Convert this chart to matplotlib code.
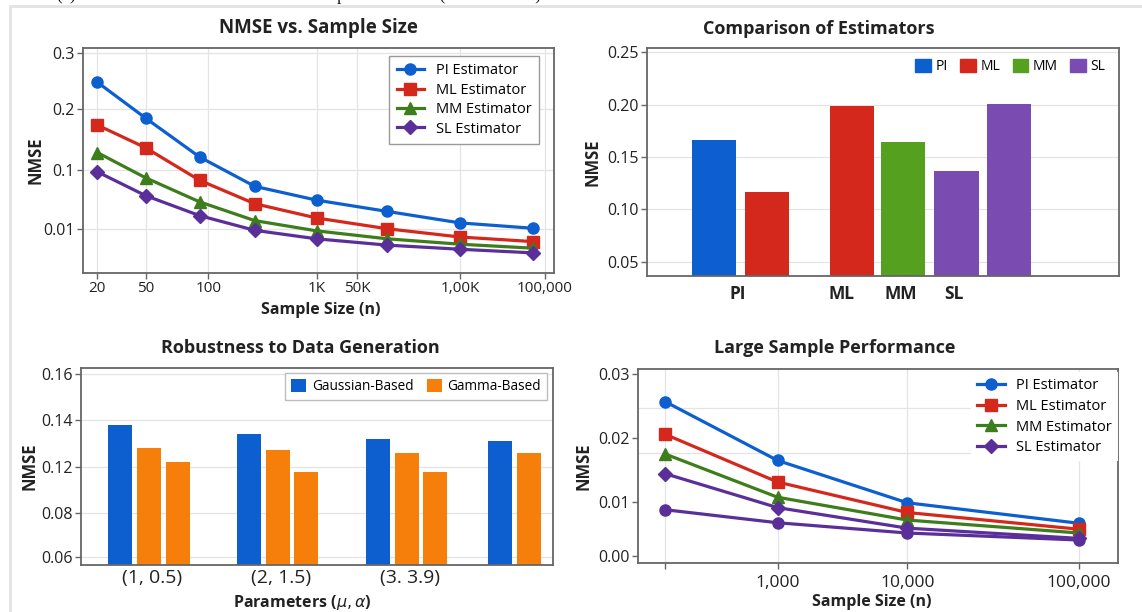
import numpy as np
import matplotlib
matplotlib.use('Agg')
import matplotlib.pyplot as plt
from matplotlib.patches import Patch, Rectangle
from matplotlib.ticker import FixedLocator, FixedFormatter, NullLocator

plt.rcParams['font.family'] = ['Open Sans', 'DejaVu Sans']

# ---------------- data ----------------
# Panel 1: NMSE vs. sample size
sample_sizes = [20, 50, 140, 400, 1300, 5000, 20000, 80000]
nmse_pi = [0.243, 0.181, 0.116, 0.053, 0.031, 0.020, 0.0128, 0.0104]
nmse_ml = [0.167, 0.129, 0.067, 0.027, 0.0155, 0.0102, 0.0074, 0.0062]
nmse_mm = [0.122, 0.074, 0.029, 0.014, 0.0094, 0.0069, 0.0056, 0.0048]
nmse_sl = [0.093, 0.037, 0.017, 0.0096, 0.0069, 0.0054, 0.0046, 0.0040]
p1_xtick_values = [20, 50, 165, 1300, 2800, 20000, 100000]
p1_xtick_labels = ['20', '50', '100', '1K', '50K', '1,00K', '100,000']
p1_ytick_values = [0.01, 0.1, 0.2, 0.3]
p1_ytick_labels = ['0.01', '0.1', '0.2', '0.3']

# Panel 2: comparison of estimators
bar_estimators = ['PI', 'ML', 'ML', 'MM', 'SL', 'SL']
bar_nmse = [0.166, 0.117, 0.199, 0.164, 0.137, 0.201]
p2_xtick_labels = ['PI', 'ML', 'MM', 'SL']
legend_estimators = ['PI', 'ML', 'MM', 'SL']
p2_ytick_values = [0.05, 0.10, 0.15, 0.20, 0.25]

# Panel 3: robustness to data generation
param_labels = ['(1, 0.5)', '(2, 1.5)', '(3. 3.9)', '']
gaussian_nmse = [0.138, 0.134, 0.132, 0.131]
gamma_nmse = [0.128, 0.127, 0.126, 0.126]
gamma_nmse_2 = [0.122, 0.115, 0.115]
p3_ytick_values = [0.06, 0.08, 0.12, 0.14, 0.16]

# Panel 4: large sample performance
large_sizes = [100, 1000, 10000, 100000]
large_pi = [0.0257, 0.0165, 0.0098, 0.0060]
large_ml = [0.0206, 0.0131, 0.0080, 0.0049]
large_mm = [0.0175, 0.0107, 0.0066, 0.0042]
large_sl = [0.0144, 0.0089, 0.0051, 0.0032]
large_extra = [0.0085, 0.0061, 0.0042, 0.0029]
p4_xtick_labels = ['', '1,000', '10,000', '100,000']
p4_ytick_values = [0.00, 0.01, 0.02, 0.03]
p4_grid_levels = [0.00, 0.01, 0.0177, 0.0248]

caption_text = '(a) NMSE Results of Estimators and Comparison Matrix (All Scenarios)'

# ---------------- style ----------------
C_BLUE = '#0d5fcf'
C_RED = '#d4281c'
C_GREEN = '#3d7d1c'
C_PURPLE = '#5a2f9a'
C_GREEN_BAR = '#55a01e'
C_PURPLE_BAR = '#7a4cb2'
C_ORANGE = '#f57f0a'
SPINE = '#666666'
GRID = '#e4e4e4'
TXT = '#222222'
est_colors = {'PI': C_BLUE, 'ML': C_RED, 'MM': C_GREEN_BAR, 'SL': C_PURPLE_BAR}

W, H = 1142, 612
fig = plt.figure(figsize=(W / 100, H / 100), dpi=100)


def add_axes_px(left, top, right, bottom):
    return fig.add_axes([left / W, 1 - bottom / H, (right - left) / W, (bottom - top) / H])


def piecewise(vals, pos, log=False):
    kv = np.log10(np.asarray(vals, float)) if log else np.asarray(vals, float)
    kp = np.asarray(pos, float)

    def fwd(x):
        x = np.asarray(x, float)
        if log:
            x = np.log10(np.clip(x, 1e-12, None))
        return np.interp(x, kv, kp)

    def inv(p):
        v = np.interp(np.asarray(p, float), kp, kv)
        return 10 ** v if log else v
    return fwd, inv


def style_axes(ax):
    for s in ax.spines.values():
        s.set_color(SPINE)
        s.set_linewidth(1.3)
    ax.tick_params(direction='out', length=4, width=1, color=SPINE,
                   labelsize=11.5, labelcolor=TXT, pad=2)
    ax.set_axisbelow(True)


line_kw = dict(lw=2.3, markersize=8)

# ---------------- Panel 1 ----------------
ax1 = add_axes_px(83, 48, 554, 273)
style_axes(ax1)
ax1.set_xscale('log')
ax1.set_yscale('function', functions=piecewise(
    [0.001, 0.01, 0.1, 0.2, 0.3, 0.4], [-59.3, 0, 59.3, 120.0, 176.3, 232.6], log=True))
ax1.plot(sample_sizes, nmse_pi, '-o', color=C_BLUE, label='PI Estimator', **line_kw)
ax1.plot(sample_sizes, nmse_ml, '-s', color=C_RED, label='ML Estimator', **line_kw)
ax1.plot(sample_sizes, nmse_mm, '-^', color=C_GREEN, label='MM Estimator', **line_kw)
ax1.plot(sample_sizes, nmse_sl, '-D', color=C_PURPLE, label='SL Estimator',
         lw=2.3, markersize=7)
ax1.set_xlim(15.2, 119500)
ax1.set_ylim(0.00183, 0.3078)
ax1.xaxis.set_major_locator(FixedLocator(p1_xtick_values))
ax1.xaxis.set_major_formatter(FixedFormatter(p1_xtick_labels))
ax1.xaxis.set_minor_locator(NullLocator())
ax1.yaxis.set_major_locator(FixedLocator(p1_ytick_values))
ax1.yaxis.set_major_formatter(FixedFormatter(p1_ytick_labels))
ax1.yaxis.set_minor_locator(NullLocator())
ax1.tick_params(axis='x', labelsize=11)
ax1.grid(True, color=GRID, lw=0.9)
ax1.set_title('NMSE vs. Sample Size', fontsize=13.5, fontweight='bold', color=TXT,
              x=0.499, y=1.089, va='center', pad=0)
ax1.set_xlabel('Sample Size (n)', fontsize=11.5, fontweight='bold', color=TXT, va='center')
ax1.xaxis.set_label_coords(0.504, -0.164)
ax1.set_ylabel('NMSE', fontsize=12, fontweight='bold', color=TXT, va='center')
ax1.yaxis.set_label_coords(-0.10, 0.5)
leg1 = ax1.legend(loc='upper right', bbox_to_anchor=(0.968, 0.964), borderaxespad=0,
                  fontsize=10.5, handlelength=1.9, labelspacing=0.3, fancybox=False,
                  edgecolor='#9a9a9a', framealpha=1, borderpad=0.5)
leg1.get_frame().set_linewidth(1.0)

# ---------------- Panel 2 ----------------
ax2 = add_axes_px(647, 47.5, 1119, 276.5)
style_axes(ax2)
bar_pos = [0, 1, 2.615, 3.59, 4.6, 5.6]
ax2.bar(bar_pos, bar_nmse, width=0.84, color=[est_colors[e] for e in bar_estimators])
ax2.set_xlim(-1.28, 7.69)
ax2.set_ylim(0.0358, 0.2546)
ax2.set_yticks(p2_ytick_values)
ax2.set_yticklabels([f'{v:.2f}' for v in p2_ytick_values])
ax2.set_xticks([0.45, 2.42, 3.55, 4.55])
ax2.set_xticklabels(p2_xtick_labels, fontsize=12.5, fontweight='bold')
ax2.tick_params(axis='x', length=0, pad=6)
ax2.grid(True, axis='y', color=GRID, lw=0.9)
ax2.set_title('Comparison of Estimators', fontsize=13, fontweight='bold', color=TXT,
              x=0.364, y=1.081, va='center', pad=0)
ax2.set_ylabel('NMSE', fontsize=12, fontweight='bold', color=TXT, va='center')
ax2.yaxis.set_label_coords(-0.1165, 0.5)
ax2.legend(handles=[Patch(color=est_colors[e], label=e) for e in legend_estimators],
           loc='upper right', bbox_to_anchor=(0.983, 0.975), borderaxespad=0,
           ncol=4, frameon=False, fontsize=10, handlelength=1.1, handleheight=1.1,
           handletextpad=0.35, columnspacing=0.9)

# ---------------- Panel 3 ----------------
ax3 = add_axes_px(81, 368.3, 553.3, 564.5)
style_axes(ax3)
ax3.set_yscale('function', functions=piecewise(
    [0.04, 0.06, 0.08, 0.12, 0.14, 0.16, 0.18], [-44, 0, 44, 90.6, 137.3, 183, 228.7]))
group_pos = np.array([0, 1, 2, 2.95])
bw, off = 0.186, 0.222
ax3.bar(group_pos - off, gaussian_nmse, width=bw, color=C_BLUE, label='Gaussian-Based')
ax3.bar(group_pos, gamma_nmse, width=bw, color=C_ORANGE, label='Gamma-Based')
ax3.bar(group_pos[:len(gamma_nmse_2)] + off, gamma_nmse_2, width=bw, color=C_ORANGE)
ax3.set_xlim(-0.528, 3.139)
ax3.set_ylim(0.0567, 0.1626)
ax3.yaxis.set_major_locator(FixedLocator(p3_ytick_values))
ax3.yaxis.set_major_formatter(FixedFormatter([f'{v:.2f}' for v in p3_ytick_values]))
ax3.yaxis.set_minor_locator(NullLocator())
ax3.set_xticks(group_pos + 0.027)
ax3.set_xticklabels(param_labels, fontsize=14)
ax3.tick_params(axis='x', length=0, pad=3)
ax3.grid(True, axis='y', color=GRID, lw=0.9)
ax3.set_title('Robustness to Data Generation', fontsize=13, fontweight='bold', color=TXT,
              x=0.465, y=1.102, va='center', pad=0)
ax3.set_xlabel(r'Parameters ($\mu, \alpha$)', fontsize=11.5, fontweight='bold', color=TXT,
               va='center')
ax3.xaxis.set_label_coords(0.468, -0.196)
ax3.set_ylabel('NMSE', fontsize=12, fontweight='bold', color=TXT, va='center')
ax3.yaxis.set_label_coords(-0.108, 0.5)
leg3 = ax3.legend(loc='upper right', bbox_to_anchor=(0.987, 0.978), borderaxespad=0,
                  ncol=2, fontsize=9.8, handlelength=1.1, handleheight=1.1,
                  handletextpad=0.4, columnspacing=1.0, fancybox=False,
                  edgecolor='#bdbdbd', framealpha=1, borderpad=0.45)
leg3.get_frame().set_linewidth(1.0)

# ---------------- Panel 4 ----------------
ax4 = add_axes_px(637.7, 369.3, 1118.3, 562.7)
style_axes(ax4)
ax4.set_xscale('function', functions=piecewise(
    [10, 100, 1000, 10000, 100000, 1e6], [-112.1, 0, 112.1, 241.7, 413.5, 585.3], log=True))
ax4.set_yscale('function', functions=piecewise(
    [-0.01, 0.0, 0.01, 0.02, 0.03, 0.04], [-54, 0, 54, 117.4, 181.4, 245.4]))
ax4.plot(large_sizes, large_pi, '-o', color=C_BLUE, label='PI Estimator', **line_kw)
ax4.plot(large_sizes, large_ml, '-s', color=C_RED, label='ML Estimator', **line_kw)
ax4.plot(large_sizes, large_mm, '-^', color=C_GREEN, label='MM Estimator', **line_kw)
ax4.plot(large_sizes, large_sl, '-D', color=C_PURPLE, label='SL Estimator',
         lw=2.3, markersize=7)
ax4.plot(large_sizes, large_extra, '-o', color=C_PURPLE, **line_kw)
ax4.set_xlim(56.5, 169400)
ax4.set_ylim(-0.0013, 0.03078)
ax4.xaxis.set_major_locator(FixedLocator(large_sizes))
ax4.xaxis.set_major_formatter(FixedFormatter(p4_xtick_labels))
ax4.xaxis.set_minor_locator(NullLocator())
ax4.yaxis.set_major_locator(FixedLocator(p4_ytick_values))
ax4.yaxis.set_major_formatter(FixedFormatter([f'{v:.2f}' for v in p4_ytick_values]))
ax4.yaxis.set_minor_locator(FixedLocator(p4_grid_levels))
ax4.tick_params(axis='y', which='minor', length=0)
ax4.tick_params(axis='x', labelsize=12.5, pad=5)
ax4.grid(True, axis='x', color=GRID, lw=0.9)
ax4.grid(True, axis='y', which='minor', color=GRID, lw=0.9)
ax4.set_title('Large Sample Performance', fontsize=13, fontweight='bold', color=TXT,
              x=0.409, y=1.109, va='center', pad=0)
ax4.set_xlabel('Sample Size (n)', fontsize=11.5, fontweight='bold', color=TXT, va='center')
ax4.xaxis.set_label_coords(0.486, -0.2017)
ax4.set_ylabel('NMSE', fontsize=12, fontweight='bold', color=TXT, va='center')
ax4.yaxis.set_label_coords(-0.112, 0.5)
leg4 = ax4.legend(loc='upper right', bbox_to_anchor=(0.999, 0.986), borderaxespad=0,
                  fontsize=10.5, handlelength=1.9, labelspacing=0.4, fancybox=False,
                  edgecolor='none', facecolor='white', framealpha=1, borderpad=0.4)

# ---------------- decorations ----------------
fig.patches.append(Rectangle((10 / W, -0.05), 1.2, 1 - 6 / H + 0.05, transform=fig.transFigure,
                             fill=False, edgecolor='#e2e2e2', lw=2.0, zorder=-5))
fig.text(57 / W, 1 + 0.5 / H, caption_text,
         family=['Liberation Serif', 'DejaVu Serif'], fontsize=12, color='#111111',
         va='baseline', ha='left')

fig.savefig('out.png', dpi=100, facecolor='white')
